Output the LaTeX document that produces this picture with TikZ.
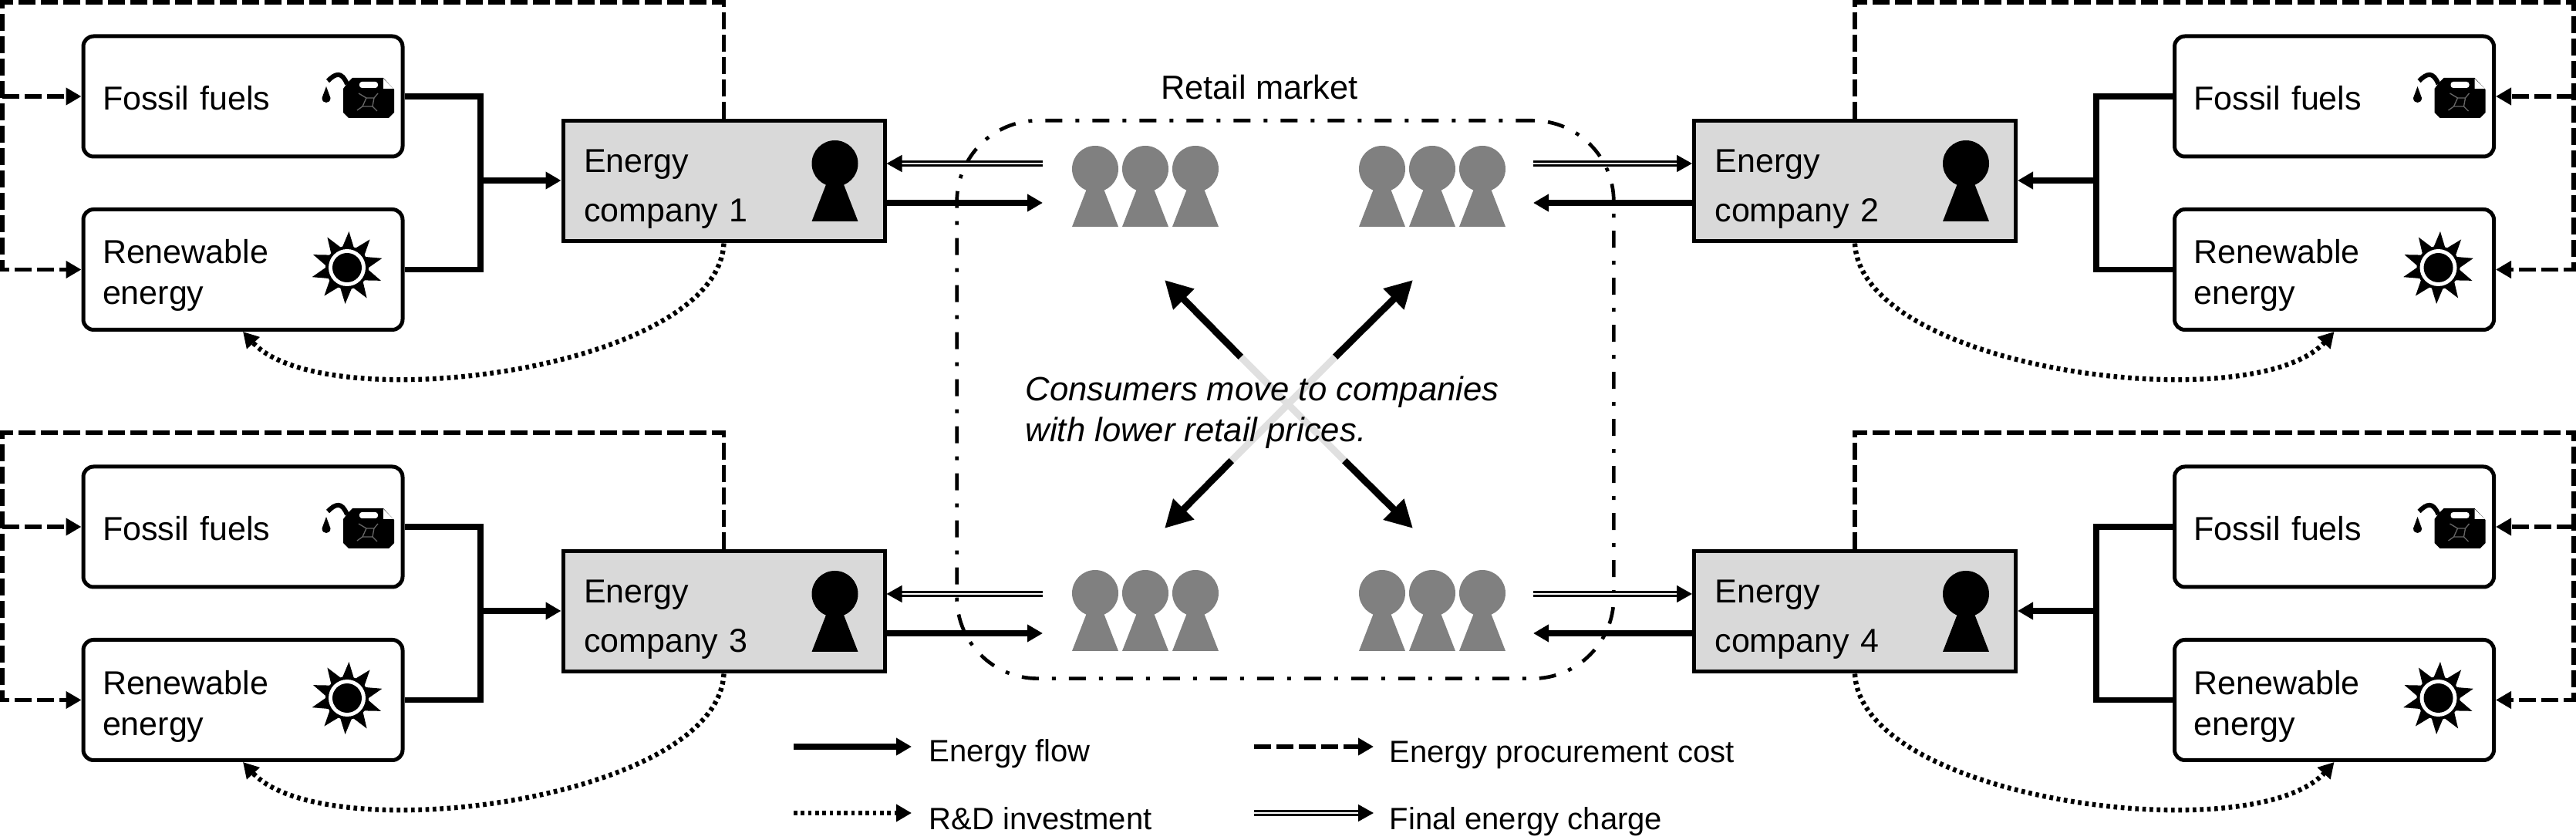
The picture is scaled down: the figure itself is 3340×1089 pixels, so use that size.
\documentclass[tikz,border=0pt]{standalone}
\usepackage{fontspec}
\setmainfont{Liberation Sans}
\usetikzlibrary{arrows.meta}
\tikzset{
  txt/.style={font=\fontsize{13}{15.9}\selectfont,inner sep=0pt},
  lgtxt/.style={font=\fontsize{12}{15}\selectfont,inner sep=0pt},
  fuelbox/.style={draw,line width=1.5pt,fill=white,rounded corners=4pt,minimum width=124.2pt,minimum height=46.8pt,
    inner xsep=7.5pt,inner ysep=0pt,text width=109.2pt,align=left,text height=0pt,font=\fontsize{12.9}{15.9}\selectfont},
  companybox/.style={draw,line width=1.5pt,fill=black!15,minimum width=125.1pt,minimum height=46.8pt,
    inner xsep=8.1pt,inner ysep=0pt,text width=108.9pt,align=left,text height=0pt,text depth=6.6pt,font=\fontsize{12.9}{19.2}\selectfont},
  flow/.style={line width=2.2pt,-{Triangle[length=6pt,width=6.5pt]}},
  move/.style={line width=2.7pt,-{Triangle[length=10.6pt,width=10.8pt]}},
  cost/.style={line width=1.7pt,dash pattern=on 6.6pt off 2.1pt,-{Triangle[length=6pt,width=6.5pt]}},
  rnd/.style={line width=1.9pt,dash pattern=on 1.4pt off 1.4pt,-{Triangle[length=6pt,width=6.5pt]}},
  charge/.style={line width=.8pt,double,double distance=.8pt,-{Triangle[length=6pt,width=6.5pt]}},
  market/.style={draw,line width=1.4pt,dash pattern=on 6.6pt off 5.1pt on 1.5pt off 5.1pt,rounded corners=31.5pt,
    minimum width=255.5pt,minimum height=217pt},
}
% one figure, head and body
\def\person#1#2#3{
  \begin{scope}[shift={({#1},{#2})}]
    \fill[#3] (0,0) circle[radius=30];
    \fill[#3] (-11,26) -- (-30,75) -- (30,75) -- (11,26) -- cycle;
  \end{scope}
}
\def\crowd#1#2{
  \person{#1}{#2}{black!50}
  \person{#1+65}{#2}{black!50}
  \person{#1+130}{#2}{black!50}
}
\def\fuelcan#1#2{
  \begin{scope}[shift={({#1},{#2})}]
    \fill (142,-24) -- (182,-24) -- (196,-9) -- (196,21) -- (189,28) -- (137,28) -- (130,21) -- (130,-10) -- (136,-18) -- cycle;
    \draw[line width=1.8pt] (135,-16) .. controls (128,-33) and (120,-30) .. (110,-20);
    \fill (108,-13) -- (102.5,2) .. controls (102.5,10) and (113.5,10) .. (113.5,2) -- cycle;
    \fill[white] (182,-23) -- (195,-10) -- (182,-10) -- cycle;
    \fill[white,rounded corners=1pt] (151,-19) rectangle (175,-11);
    \draw[black!60,line width=.4pt] (150,-4) -- (160,2) -- (170,2) -- (175,-4) (160,2) -- (155,13) -- (148,18)
      (170,2) -- (168,13) -- (174,19) (155,13) -- (168,13);
  \end{scope}
}
\def\sunicon#1#2{
  \begin{scope}[shift={({#1},{#2})}]
    \foreach \a in {0,36,...,324} \fill (\a-87:47) -- (\a-69:26) -- (\a-105:26) -- cycle;
    \fill (0,0) circle[radius=28];
    \fill[white] (0,0) circle[radius=24];
    \fill (0,0) circle[radius=19];
  \end{scope}
}
% number, y offset, x of fuel boxes, x of company, x of joint, x of cost line, anchors, side
\def\energyunit#1#2#3#4#5#6#7#8#9{
  \node (fos#1) [fuelbox,text height=10.8pt,text depth=0pt] at (#3,{125+#2}) {Fossil fuels};
  \node (ren#1) [fuelbox,text depth=4.5pt] at (#3,{349.5+#2}) {Renewable\\energy};
  \node (com#1) [companybox] at (#4,{235+#2}) {Energy\\company #1};
  \fuelcan{#3}{125+#2}
  \sunicon{#3+135}{347+#2}
  \person{#4+144}{212+#2}{black}
  \coordinate (join#1) at (#5,{234+#2});
  \coordinate (edge#1) at (#6,{3+#2});
  \draw[line width=2.2pt] (fos#1.#7) -| (join#1) |- (ren#1.#7);
  \draw[flow] (join#1) -- (join#1 -| com#1.#8);
  \draw[cost] (com#1.north) |- (edge#1) |- (ren#1.#8);
  \draw[cost] (edge#1 |- fos#1.#8) -- (fos#1.#8);
  \draw[rnd] (com#1.south) .. controls +({-8*#9},165) and +({105*#9},115) .. (ren#1.south);
}
\begin{document}
\begin{tikzpicture}[x=.3pt,y=-.3pt]
  \useasboundingbox (0,0) rectangle (3340,1089);
  \node (market) [market] at (1666.5,518) {};
  \node (retail) [txt,anchor=base] at (1633,129) {Retail market};
  \energyunit{1}{0}{315}{938.5}{623}{3}{east}{west}{1}
  \energyunit{2}{0}{3026.5}{2405}{2718}{3337}{west}{east}{-1}
  \energyunit{3}{558}{315}{938.5}{623}{3}{east}{west}{1}
  \energyunit{4}{558}{3026.5}{2405}{2718}{3337}{west}{east}{-1}
  \crowd{1420}{219}
  \crowd{1792}{219}
  \crowd{1420}{769}
  \crowd{1792}{769}
  % market arrows
  \foreach \n/\y in {1/0,3/558} {
    \coordinate (buy\n) at (1352,{212+\y});
    \coordinate (sell\n) at (1352,{263+\y});
    \draw[charge] (buy\n) -- (buy\n -| com\n.east);
    \draw[flow] (sell\n -| com\n.east) -- (sell\n);
  }
  \foreach \n/\y in {2/0,4/558} {
    \coordinate (buy\n) at (1988,{212+\y});
    \coordinate (sell\n) at (1988,{263+\y});
    \draw[charge] (buy\n) -- (buy\n -| com\n.west);
    \draw[flow] (sell\n -| com\n.west) -- (sell\n);
  }
  % consumers moving
  \coordinate (cross) at (1670,524);
  \foreach \n/\tipx/\tipy/\fadex/\fadey in {a/1510/363/1609/463,b/1832/363/1731/463,c/1510/685/1597/597,d/1832/685/1743/597} {
    \coordinate (tip\n) at (\tipx,\tipy);
    \coordinate (fade\n) at (\fadex,\fadey);
    \draw[move] (fade\n) -- (tip\n);
    \draw[line width=2.7pt,black!12] (cross) -- (fade\n);
  }
  \node (note) [txt,font=\fontsize{13.1}{15.9}\selectfont\itshape,anchor=west,align=left] at (1329,534.5) {Consumers move to companies\\with lower retail prices.};
  % legend
  \node (lgflow) [lgtxt,anchor=base west] at (1204,988) {Energy flow};
  \node (lgrnd) [lgtxt,anchor=base west] at (1204,1075) {R\&D investment};
  \node (lgcost) [lgtxt,anchor=base west] at (1801,989) {Energy procurement cost};
  \node (lgcharge) [lgtxt,anchor=base west] at (1801,1075) {Final energy charge};
  \coordinate (lga) at (1029,968);
  \coordinate (lgb) at (1029,1054);
  \coordinate (lgc) at (1626,968);
  \coordinate (lgd) at (1626,1054);
  \draw[flow] (lga) -- +(153,0);
  \draw[rnd] (lgb) -- +(153,0);
  \draw[cost] (lgc) -- +(155,0);
  \draw[charge] (lgd) -- +(155,0);
\end{tikzpicture}
\end{document}
